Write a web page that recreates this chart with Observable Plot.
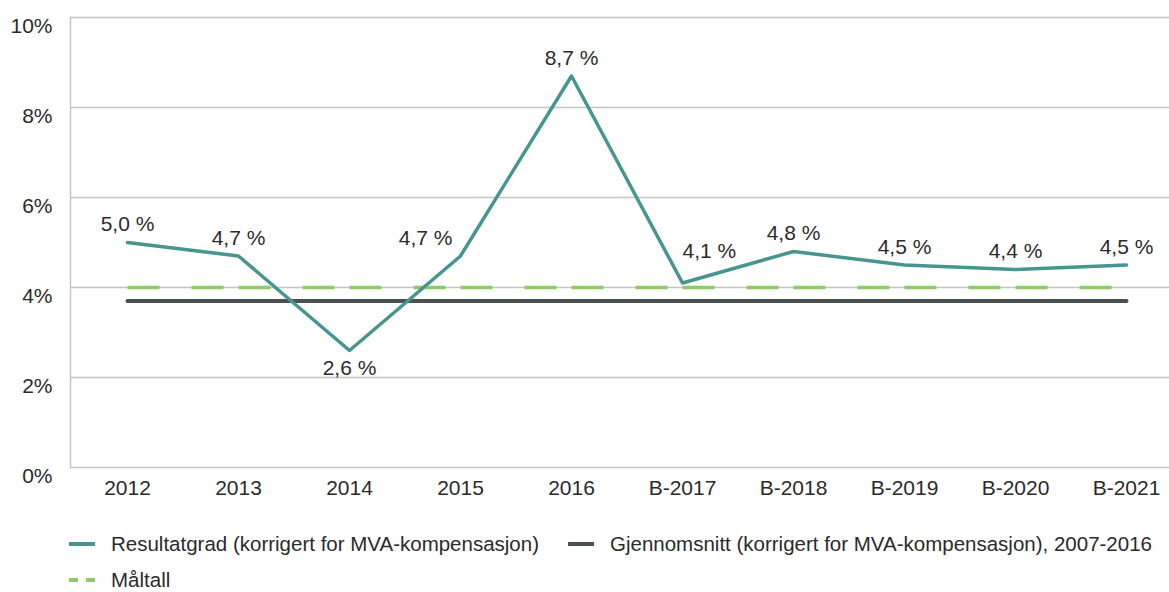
<!DOCTYPE html>
<html>
<head>
<meta charset="utf-8">
<script src="https://cdn.jsdelivr.net/npm/d3@7"></script>
<script src="https://cdn.jsdelivr.net/npm/@observablehq/plot@0.6"></script>
<style>
  body { margin: 0; background: #fff; font-family: "Liberation Sans", Arial, sans-serif; color: #2b2b2b; }
  #chart { position: relative; width: 1169px; height: 592px; }
  .item { position: absolute; display: flex; align-items: center; white-space: nowrap; transform: translateY(-50%); }
  .sw { width: 26px; height: 0; margin-right: 16px; }
</style>
</head>
<body>
<div id="chart"></div>
<script>
const categories = ["2012", "2013", "2014", "2015", "2016", "B-2017", "B-2018", "B-2019", "B-2020", "B-2021"];
const resultatgrad = [5.0, 4.7, 2.6, 4.7, 8.7, 4.1, 4.8, 4.5, 4.4, 4.5];
const gjennomsnitt = 3.7;
const maltall = 4.0;
const yTicks = [0, 2, 4, 6, 8, 10];
const seriesNames = ["Resultatgrad (korrigert for MVA-kompensasjon)", "Gjennomsnitt (korrigert for MVA-kompensasjon), 2007-2016", "Måltall"];

const colors = { teal: "#46968f", dark: "#4b5153", green: "#8fca68", grid: "#c4c4c6", text: "#2b2b2b" };

const rows = categories.map((c, i) => {
  const v = resultatgrad[i];
  const prev = i > 0 ? resultatgrad[i - 1] : v;
  const next = i < resultatgrad.length - 1 ? resultatgrad[i + 1] : v;
  // label placement derived from the line's shape: avoid steep segments
  let side = "middle";
  if (next - v > 2) side = "end";
  else if (prev - v > 2) side = "start";
  return { cat: categories[i], v, side, below: v < 3 };
});
const pairs = categories.slice(1).map((c, i) => ({ a: categories[i], b: c }));
const fmt = v => v.toFixed(1).replace(".", ",") + " %";

const W = 1169, H = 515;
const plot = Plot.plot({
  width: W,
  height: H,
  marginLeft: 70,
  marginRight: 0,
  marginTop: 17,
  marginBottom: 48,
  style: { fontFamily: "Liberation Sans, Arial, sans-serif", fontSize: "21px", color: colors.text, background: "#fff" },
  x: { type: "point", domain: categories, range: [126, 1127], padding: 0, axis: null },
  y: { domain: [0, 10], axis: null },
  marks: [
    Plot.ruleY(yTicks, { stroke: colors.grid, strokeWidth: 1.4 }),
    Plot.frame({ anchor: "left", stroke: colors.grid, strokeWidth: 1.4 }),
    Plot.text(yTicks, { y: d => d, text: d => d + "%", frameAnchor: "left", textAnchor: "end", dx: -18, dy: 9, fill: colors.text, fontSize: 21 }),
    Plot.text(categories, { x: d => d, text: d => d, frameAnchor: "bottom", dy: 27, fill: colors.text, fontSize: 21 }),
    Plot.lineY(categories, { x: d => d, y: () => gjennomsnitt, stroke: colors.dark, strokeWidth: 4 }),
    Plot.link(pairs, { x1: "a", x2: "b", y1: () => maltall, y2: () => maltall, stroke: colors.green, strokeWidth: 3.5, strokeDasharray: "32,32" }),
    Plot.line(rows, { x: "cat", y: "v", stroke: colors.teal, strokeWidth: 3.5 }),
    Plot.text(rows.filter(d => !d.below && d.side === "middle"), { x: "cat", y: "v", text: d => fmt(d.v), dy: -18, fill: colors.text, fontSize: 21 }),
    Plot.text(rows.filter(d => !d.below && d.side === "end"), { x: "cat", y: "v", text: d => fmt(d.v), textAnchor: "end", dx: -8, dy: -18, fill: colors.text, fontSize: 21 }),
    Plot.text(rows.filter(d => !d.below && d.side === "start"), { x: "cat", y: "v", text: d => fmt(d.v), textAnchor: "start", dx: 0, dy: -32, fill: colors.text, fontSize: 21 }),
    Plot.text(rows.filter(d => d.below), { x: "cat", y: "v", text: d => fmt(d.v), dy: 18, fill: colors.text, fontSize: 21 })
  ]
});
const chart = document.getElementById("chart");
chart.appendChild(plot);

const legend = document.createElement("div");
legend.innerHTML = `
  <div class="item" style="left:69px; top:544px; font-size:20.5px;"><span class="sw" style="border-top:4px solid ${colors.teal}"></span>${seriesNames[0]}</div>
  <div class="item" style="left:568px; top:544px; font-size:20.5px;"><span class="sw" style="border-top:4px solid ${colors.dark}"></span>${seriesNames[1]}</div>
  <div class="item" style="left:69px; top:580px; font-size:20.5px;"><span class="sw" style="border-top:4px dashed ${colors.green}; border-image: repeating-linear-gradient(90deg, ${colors.green} 0 10px, transparent 10px 16px) 4;"></span>${seriesNames[2]}</div>`;
chart.appendChild(legend);
legend.style.position = "absolute"; legend.style.left = "0"; legend.style.top = "0";
</script>
</body>
</html>
